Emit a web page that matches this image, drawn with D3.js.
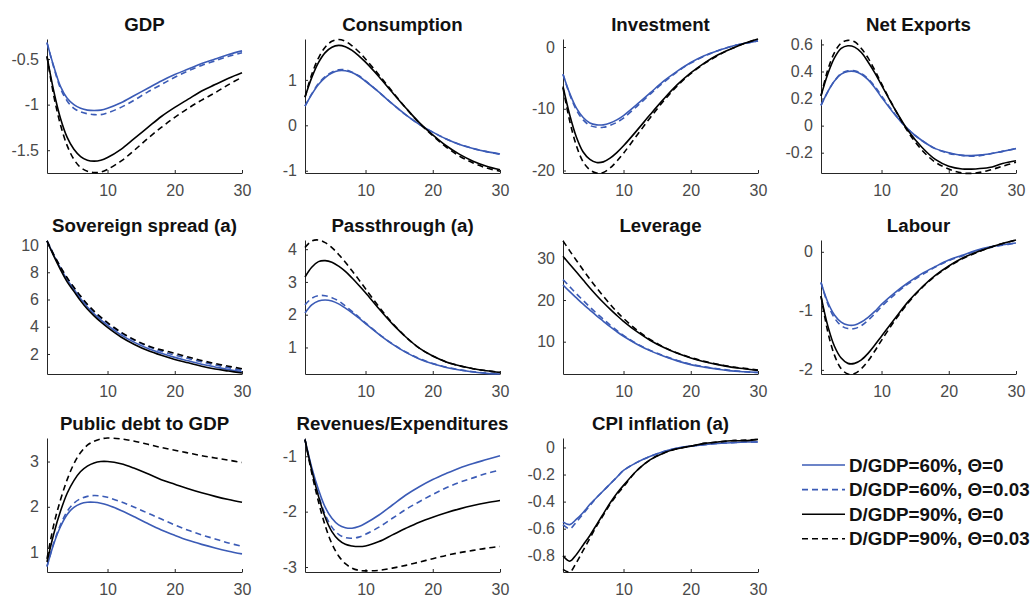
<!DOCTYPE html>
<html>
<head>
<meta charset="utf-8">
<script src="https://cdn.jsdelivr.net/npm/d3@7"></script>
<style>
body { margin: 0; background: #fff; }
svg { font-family: "Liberation Sans", Arial, sans-serif; }
.tick text { fill: #4a4a4a; font-size: 16px; }
.title { font-size: 18.7px; font-weight: bold; fill: #111; }
.legend text { font-size: 18.8px; font-weight: bold; fill: #111; }
</style>
</head>
<body>
<svg id="chart" width="1034" height="599"></svg>
<script>
var periods = [1, 2, 3, 4, 5, 6, 7, 8, 9, 10, 12, 14, 16, 18, 20, 22, 24, 26, 28, 30];
var xTicks = [10, 20, 30];
var seriesNames = ["D/GDP=60%, \u0398=0", "D/GDP=60%, \u0398=0.03", "D/GDP=90%, \u0398=0", "D/GDP=90%, \u0398=0.03"];

// GDP
var gdp60 = [-0.32, -0.58, -0.80, -0.93, -1.00, -1.04, -1.06, -1.065, -1.06, -1.04, -0.98, -0.90, -0.82, -0.74, -0.67, -0.61, -0.55, -0.50, -0.45, -0.41];
var gdp60t = [-0.32, -0.59, -0.82, -0.96, -1.04, -1.08, -1.10, -1.11, -1.11, -1.09, -1.03, -0.95, -0.86, -0.78, -0.70, -0.63, -0.57, -0.52, -0.47, -0.43];
var gdp90 = [-0.47, -0.85, -1.15, -1.36, -1.49, -1.57, -1.61, -1.62, -1.61, -1.58, -1.49, -1.37, -1.25, -1.13, -1.03, -0.94, -0.85, -0.78, -0.71, -0.65];
var gdp90t = [-0.47, -0.90, -1.22, -1.45, -1.60, -1.69, -1.73, -1.745, -1.74, -1.71, -1.62, -1.50, -1.37, -1.25, -1.14, -1.04, -0.95, -0.87, -0.78, -0.70];

// Consumption
var cons60 = [0.42, 0.68, 0.90, 1.05, 1.15, 1.20, 1.20, 1.16, 1.08, 0.97, 0.73, 0.47, 0.23, 0.02, -0.15, -0.30, -0.42, -0.51, -0.58, -0.63];
var cons60t = [0.42, 0.69, 0.92, 1.07, 1.17, 1.22, 1.22, 1.17, 1.09, 0.98, 0.73, 0.47, 0.23, 0.02, -0.15, -0.30, -0.42, -0.51, -0.58, -0.64];
var cons90 = [0.62, 1.05, 1.38, 1.60, 1.72, 1.76, 1.73, 1.65, 1.53, 1.39, 1.07, 0.72, 0.38, 0.06, -0.21, -0.45, -0.64, -0.79, -0.90, -0.98];
var cons90t = [0.62, 1.12, 1.48, 1.72, 1.85, 1.89, 1.85, 1.75, 1.62, 1.46, 1.11, 0.74, 0.38, 0.05, -0.23, -0.48, -0.68, -0.83, -0.94, -1.01];

// Investment
var inv60 = [-4.4, -7.5, -9.9, -11.4, -12.3, -12.6, -12.6, -12.3, -11.8, -11.1, -9.3, -7.4, -5.5, -3.9, -2.5, -1.4, -0.6, 0.1, 0.6, 1.0];
var inv60t = [-4.4, -7.7, -10.2, -11.8, -12.7, -13.0, -13.0, -12.7, -12.2, -11.5, -9.6, -7.6, -5.7, -4.0, -2.6, -1.5, -0.6, 0.1, 0.6, 1.0];
var inv90 = [-6.4, -11.0, -14.6, -17.0, -18.2, -18.7, -18.6, -18.0, -17.1, -16.0, -13.5, -10.9, -8.4, -6.1, -4.2, -2.6, -1.3, -0.3, 0.6, 1.3];
var inv90t = [-6.6, -12.0, -16.0, -18.6, -19.9, -20.4, -20.3, -19.6, -18.5, -17.2, -14.3, -11.4, -8.7, -6.3, -4.3, -2.7, -1.4, -0.3, 0.6, 1.3];

// Net exports
var nx60 = [0.15, 0.25, 0.33, 0.38, 0.40, 0.40, 0.38, 0.34, 0.28, 0.21, 0.08, -0.03, -0.11, -0.17, -0.20, -0.22, -0.22, -0.21, -0.19, -0.17];
var nx60t = [0.15, 0.25, 0.33, 0.385, 0.405, 0.405, 0.385, 0.345, 0.29, 0.22, 0.085, -0.03, -0.11, -0.17, -0.205, -0.22, -0.225, -0.21, -0.19, -0.17];
var nx90 = [0.22, 0.38, 0.50, 0.57, 0.59, 0.58, 0.54, 0.47, 0.39, 0.30, 0.12, -0.04, -0.16, -0.25, -0.30, -0.32, -0.32, -0.31, -0.28, -0.26];
var nx90t = [0.22, 0.41, 0.54, 0.61, 0.63, 0.62, 0.57, 0.50, 0.41, 0.31, 0.12, -0.05, -0.18, -0.27, -0.32, -0.35, -0.35, -0.33, -0.30, -0.27];

// Sovereign spread
var spr60 = [10.3, 9.25, 8.3, 7.45, 6.75, 6.05, 5.45, 4.95, 4.5, 4.1, 3.4, 2.85, 2.4, 2.05, 1.75, 1.5, 1.25, 1.05, 0.85, 0.7];
var spr60t = [10.3, 9.3, 8.4, 7.55, 6.85, 6.2, 5.6, 5.1, 4.65, 4.25, 3.55, 3.0, 2.55, 2.2, 1.92, 1.67, 1.42, 1.2, 1.0, 0.8];
var spr90 = [10.3, 9.2, 8.2, 7.3, 6.6, 5.9, 5.3, 4.8, 4.35, 3.95, 3.25, 2.7, 2.25, 1.9, 1.6, 1.35, 1.1, 0.9, 0.75, 0.6];
var spr90t = [10.3, 9.3, 8.4, 7.6, 6.9, 6.25, 5.65, 5.15, 4.7, 4.3, 3.6, 3.05, 2.6, 2.3, 2.05, 1.78, 1.52, 1.3, 1.1, 0.92];

// Passthrough
var pass60 = [2.05, 2.3, 2.42, 2.45, 2.42, 2.33, 2.2, 2.06, 1.9, 1.73, 1.4, 1.1, 0.85, 0.65, 0.5, 0.39, 0.31, 0.25, 0.21, 0.19];
var pass60t = [2.3, 2.5, 2.58, 2.58, 2.52, 2.42, 2.27, 2.1, 1.93, 1.75, 1.41, 1.11, 0.86, 0.66, 0.51, 0.4, 0.32, 0.26, 0.22, 0.2];
var pass90 = [3.15, 3.45, 3.62, 3.65, 3.6, 3.48, 3.32, 3.12, 2.9, 2.67, 2.18, 1.72, 1.32, 0.98, 0.74, 0.56, 0.44, 0.35, 0.29, 0.24];
var pass90t = [4.05, 4.25, 4.28, 4.2, 4.05, 3.84, 3.6, 3.34, 3.07, 2.79, 2.24, 1.74, 1.32, 0.98, 0.74, 0.56, 0.44, 0.35, 0.29, 0.24];

// Leverage
var lev60 = [23.6, 22.0, 20.5, 19.0, 17.6, 16.2, 14.9, 13.6, 12.4, 11.3, 9.4, 7.8, 6.5, 5.4, 4.5, 3.9, 3.4, 3.0, 2.8, 2.6];
var lev60t = [24.9, 23.2, 21.5, 19.9, 18.3, 16.8, 15.4, 14.0, 12.7, 11.5, 9.5, 7.9, 6.6, 5.5, 4.6, 4.0, 3.5, 3.1, 2.8, 2.6];
var lev90 = [30.5, 28.6, 26.7, 24.8, 22.9, 21.1, 19.4, 17.8, 16.3, 14.9, 12.4, 10.3, 8.6, 7.2, 6.1, 5.2, 4.5, 3.9, 3.5, 3.1];
var lev90t = [34.2, 31.8, 29.5, 27.2, 25.0, 22.9, 20.9, 19.0, 17.2, 15.6, 12.8, 10.5, 8.7, 7.3, 6.2, 5.3, 4.6, 4.0, 3.6, 3.2];

// Labour
var lab60 = [-0.52, -0.85, -1.07, -1.19, -1.24, -1.24, -1.19, -1.11, -1.01, -0.89, -0.69, -0.52, -0.37, -0.25, -0.14, -0.06, 0.02, 0.08, 0.12, 0.15];
var lab60t = [-0.52, -0.88, -1.12, -1.25, -1.3, -1.3, -1.25, -1.16, -1.05, -0.93, -0.72, -0.54, -0.39, -0.26, -0.15, -0.07, 0.01, 0.07, 0.11, 0.15];
var lab90 = [-0.75, -1.25, -1.6, -1.8, -1.89, -1.89, -1.83, -1.72, -1.58, -1.43, -1.13, -0.84, -0.6, -0.4, -0.24, -0.11, -0.01, 0.07, 0.14, 0.2];
var lab90t = [-0.75, -1.35, -1.75, -1.98, -2.07, -2.06, -1.98, -1.85, -1.68, -1.5, -1.16, -0.86, -0.61, -0.41, -0.25, -0.12, -0.02, 0.07, 0.14, 0.2];

// Public debt to GDP
var debt60 = [0.68, 1.18, 1.56, 1.83, 1.99, 2.07, 2.1, 2.1, 2.08, 2.04, 1.92, 1.78, 1.63, 1.49, 1.37, 1.26, 1.17, 1.09, 1.02, 0.96];
var debt60t = [0.68, 1.2, 1.6, 1.9, 2.08, 2.18, 2.23, 2.25, 2.24, 2.21, 2.11, 1.99, 1.86, 1.73, 1.6, 1.48, 1.38, 1.29, 1.2, 1.13];
var debt90 = [0.78, 1.4, 1.9, 2.3, 2.58, 2.78, 2.9, 2.97, 3.0, 3.0, 2.95, 2.85, 2.73, 2.6, 2.5, 2.4, 2.31, 2.23, 2.16, 2.1];
var debt90t = [0.85, 1.6, 2.15, 2.6, 2.95, 3.2, 3.36, 3.45, 3.5, 3.52, 3.5, 3.45, 3.38, 3.31, 3.25, 3.19, 3.13, 3.08, 3.03, 2.98];

// Revenues/Expenditures
var rev60 = [-0.7, -1.2, -1.6, -1.92, -2.12, -2.24, -2.29, -2.3, -2.27, -2.21, -2.06, -1.88, -1.7, -1.55, -1.42, -1.31, -1.21, -1.13, -1.06, -0.99];
var rev60t = [-0.7, -1.25, -1.7, -2.05, -2.28, -2.41, -2.47, -2.48, -2.46, -2.41, -2.28, -2.12, -1.96, -1.82, -1.69, -1.57, -1.47, -1.39, -1.31, -1.25];
var rev90 = [-0.7, -1.25, -1.72, -2.1, -2.36, -2.51, -2.59, -2.62, -2.63, -2.62, -2.54, -2.42, -2.3, -2.19, -2.1, -2.02, -1.95, -1.89, -1.84, -1.8];
var rev90t = [-0.7, -1.3, -1.82, -2.25, -2.58, -2.8, -2.94, -3.02, -3.06, -3.07, -3.06, -3.02, -2.97, -2.91, -2.85, -2.79, -2.74, -2.7, -2.66, -2.63];

// CPI inflation
var cpi60 = [-0.55, -0.57, -0.53, -0.48, -0.42, -0.37, -0.32, -0.27, -0.22, -0.17, -0.11, -0.065, -0.03, -0.005, 0.01, 0.02, 0.03, 0.035, 0.04, 0.04];
var cpi60t = [-0.57, -0.6, -0.55, -0.49, -0.43, -0.37, -0.32, -0.27, -0.22, -0.17, -0.11, -0.065, -0.03, -0.005, 0.01, 0.02, 0.03, 0.035, 0.04, 0.04];
var cpi90 = [-0.8, -0.84, -0.79, -0.72, -0.65, -0.57, -0.49, -0.41, -0.34, -0.28, -0.17, -0.09, -0.04, -0.01, 0.01, 0.03, 0.04, 0.05, 0.05, 0.06];
var cpi90t = [-0.9, -0.92, -0.85, -0.76, -0.67, -0.58, -0.5, -0.42, -0.35, -0.29, -0.17, -0.09, -0.04, -0.01, 0.01, 0.03, 0.04, 0.05, 0.055, 0.06];

var panels = [
  { title: "GDP", lines: [gdp60, gdp60t, gdp90, gdp90t], yDomain: [-1.75, -0.28], yTicks: [-1.5, -1, -0.5] },
  { title: "Consumption", lines: [cons60, cons60t, cons90, cons90t], yDomain: [-1.05, 1.9], yTicks: [-1, 0, 1] },
  { title: "Investment", lines: [inv60, inv60t, inv90, inv90t], yDomain: [-20.4, 1.3], yTicks: [-20, -10, 0] },
  { title: "Net Exports", lines: [nx60, nx60t, nx90, nx90t], yDomain: [-0.35, 0.64], yTicks: [-0.2, 0, 0.2, 0.4, 0.6] },
  { title: "Sovereign spread (a)", lines: [spr60, spr60t, spr90, spr90t], yDomain: [0.53, 10.37], yTicks: [2, 4, 6, 8, 10] },
  { title: "Passthrough (a)", lines: [pass60, pass60t, pass90, pass90t], yDomain: [0.19, 4.28], yTicks: [1, 2, 3, 4] },
  { title: "Leverage", lines: [lev60, lev60t, lev90, lev90t], yDomain: [2.25, 34.4], yTicks: [10, 20, 30] },
  { title: "Labour", lines: [lab60, lab60t, lab90, lab90t], yDomain: [-2.07, 0.2], yTicks: [-2, -1, 0] },
  { title: "Public debt to GDP", lines: [debt60, debt60t, debt90, debt90t], yDomain: [0.56, 3.52], yTicks: [1, 2, 3] },
  { title: "Revenues/Expenditures", lines: [rev60, rev60t, rev90, rev90t], yDomain: [-3.09, -0.67], yTicks: [-3, -2, -1] },
  { title: "CPI inflation (a)", lines: [cpi60, cpi60t, cpi90, cpi90t], yDomain: [-0.92, 0.07], yTicks: [-0.8, -0.6, -0.4, -0.2, 0] }
];

var colors = ["#3b5bb6", "#3b5bb6", "#000000", "#000000"];
var dashes = [null, "6,4", null, "6,4"];

var colLeft = [47, 305, 563, 821];
var rowTop = [39, 240, 438];
var panelW = 195;
var panelH = 134;

var svg = d3.select("#chart");

panels.forEach(function(p, i) {
  var g = svg.append("g")
    .attr("transform", `translate(${colLeft[i % 4]}, ${rowTop[Math.floor(i / 4)]})`);

  var x = d3.scaleLinear().domain([1, 30]).range([0, panelW]);
  var y = d3.scaleLinear().domain(p.yDomain).range([panelH, 0]);

  g.append("g")
    .attr("transform", `translate(0, ${panelH})`)
    .attr("color", "#262626")
    .call(d3.axisBottom(x).tickValues(xTicks).tickSize(-3).tickSizeOuter(0).tickPadding(12).tickFormat(d => String(d)));

  g.append("g")
    .attr("color", "#262626")
    .call(d3.axisLeft(y).tickValues(p.yTicks).tickSize(-3).tickSizeOuter(0).tickPadding(8).tickFormat(d => String(d)));

  var line = d3.line()
    .x((d, j) => x(periods[j]))
    .y(d => y(d))
    .curve(d3.curveCatmullRom.alpha(0.5));

  p.lines.forEach(function(vals, k) {
    g.append("path")
      .datum(vals)
      .attr("fill", "none")
      .attr("stroke", colors[k])
      .attr("stroke-width", 1.6)
      .attr("stroke-dasharray", dashes[k])
      .attr("d", line);
  });

  g.append("text")
    .attr("class", "title")
    .attr("x", panelW / 2)
    .attr("y", -8)
    .attr("text-anchor", "middle")
    .text(p.title);
});

// legend
var legend = svg.append("g").attr("class", "legend").attr("transform", "translate(802, 465)");
seriesNames.forEach(function(name, k) {
  var row = legend.append("g").attr("transform", `translate(0, ${k * 24.6})`);
  row.append("line")
    .attr("x1", 0).attr("x2", 43)
    .attr("stroke", colors[k])
    .attr("stroke-width", 1.6)
    .attr("stroke-dasharray", dashes[k]);
  row.append("text")
    .attr("x", 47)
    .attr("dy", "0.35em")
    .text(name);
});
</script>
</body>
</html>
